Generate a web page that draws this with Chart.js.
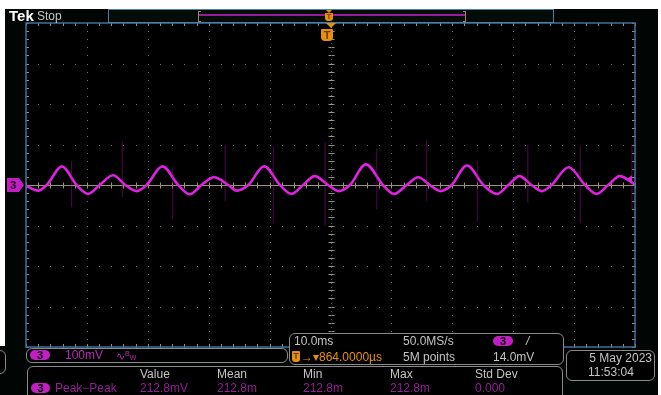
<!DOCTYPE html>
<html>
<head>
<meta charset="utf-8">
<script src="https://cdn.jsdelivr.net/npm/chart.js@4.4.0/dist/chart.umd.min.js"></script>
<style>
  body { margin: 0; background: #fff; }
  #screen { position: absolute; left: 0; top: 0; width: 661px; height: 395px; overflow: hidden;
            font-family: "Liberation Sans", Arial, sans-serif; }
  .bg { position: absolute; background: #010604; }
  canvas { position: absolute; left: 0; top: 0; z-index: 1; }
  .t { position: absolute; white-space: nowrap; font-size: 12px; line-height: 12px; z-index: 3; }
  .box { position: absolute; border: 1px solid #8a8a8a; border-radius: 6px; background: #000; z-index: 2; }
  .pill { position: absolute; background: #c21fc2; color: #000; border-radius: 5px; font-size: 11px;
          line-height: 10px; font-weight: bold; text-align: center; z-index: 3; }
  .grey { color: #c4c4c4; }
  .mag { color: #b42eb4; }
  .dmag { color: #951f95; }
  .orange { color: #e8900c; }
</style>
</head>
<body>
<div id="screen">
  <div class="bg" style="left:5px;top:9px;width:653px;height:386px"></div>
  <div class="bg" style="left:0;top:346px;width:30px;height:49px"></div>

  <!-- barra superior -->
  <div class="t" style="left:9px;top:8px;font-size:15px;line-height:15px;font-weight:bold;color:#fff">Tek</div>
  <div class="t grey" style="left:37px;top:10px">Stop</div>
  <div style="position:absolute;left:108px;top:9px;width:444px;height:12px;border:1px solid #4a7fae;background:#040c07;z-index:2"></div>
  <div style="position:absolute;left:199px;top:14px;width:266px;height:2px;background:#9a1a9a;z-index:3"></div>
  <div style="position:absolute;left:198px;top:11px;width:2px;height:9px;border:1px solid #9c8a62;border-right:none;z-index:3"></div>
  <div style="position:absolute;left:463px;top:11px;width:2px;height:9px;border:1px solid #9c8a62;border-left:none;z-index:3"></div>
  <div style="position:absolute;left:326px;top:10px;width:0;height:0;border-left:3px solid transparent;border-right:3px solid transparent;border-top:3px solid #e8900c;z-index:3"></div>
  <div style="position:absolute;left:325px;top:13px;width:8px;height:8px;background:#e8900c;border-radius:0 0 3px 3px;color:#7a4400;font-size:8px;line-height:8px;font-weight:bold;text-align:center;z-index:3">T</div>

  <!-- marcador de disparo -->
  <div style="position:absolute;left:326px;top:23px;width:0;height:0;border-left:5px solid transparent;border-right:5px solid transparent;border-top:5px solid #e8900c;z-index:3"></div>
  <div style="position:absolute;left:321px;top:29px;width:12px;height:12px;background:#e8900c;border-radius:1px 1px 4px 4px;color:#6a3a00;font-size:11px;line-height:12px;font-weight:bold;text-align:center;z-index:3">T</div>

  <!-- marcador del canal 3 -->
  <div style="position:absolute;left:7px;top:178px;width:17px;height:14px;background:#c21fc2;clip-path:polygon(0 0,70% 0,100% 50%,70% 100%,0 100%);color:#2a002a;font-size:11px;line-height:14px;font-weight:bold;padding-left:3px;box-sizing:border-box;z-index:3">3</div>

  <!-- cajas inferiores -->
  <div class="box" style="left:-10px;top:350px;width:14px;height:22px"></div>
  <div class="box" style="left:26px;top:348px;width:260px;height:13px"></div>
  <div class="pill" style="left:30px;top:350px;width:20px;height:10px">3</div>
  <div class="t mag" style="left:65px;top:349px">100mV</div>
  <div class="t mag" style="left:116px;top:348px;font-size:11px">∿<span style="font-size:7px;vertical-align:4px">B</span><span style="font-size:7px">W</span></div>

  <div class="box" style="left:289px;top:333px;width:273px;height:30px"></div>
  <div class="t grey" style="left:294px;top:335px">10.0ms</div>
  <div class="t grey" style="left:403px;top:335px">50.0MS/s</div>
  <div class="pill" style="left:493px;top:336px;width:20px;height:10px">3</div>
  <div class="t grey" style="left:526px;top:335px;font-style:italic">/</div>
  <div style="position:absolute;left:292px;top:351px;width:8px;height:11px;background:#e8900c;border-radius:1px 1px 3px 3px;color:#6a3a00;font-size:9px;line-height:11px;font-weight:bold;text-align:center;z-index:3">T</div>
  <div class="t orange" style="left:301px;top:351px">→▾864.0000µs</div>
  <div class="t grey" style="left:403px;top:351px">5M points</div>
  <div class="t grey" style="left:493px;top:351px">14.0mV</div>

  <div class="box" style="left:566px;top:350px;width:87px;height:29px"></div>
  <div class="t grey" style="left:566px;top:352px;width:86px;text-align:right">5 May 2023</div>
  <div class="t grey" style="left:588px;top:366px">11:53:04</div>

  <div class="box" style="left:27px;top:366px;width:534px;height:40px"></div>
  <div class="t grey" style="left:140px;top:368px">Value</div>
  <div class="t grey" style="left:217px;top:368px">Mean</div>
  <div class="t grey" style="left:303px;top:368px">Min</div>
  <div class="t grey" style="left:390px;top:368px">Max</div>
  <div class="t grey" style="left:475px;top:368px">Std Dev</div>
  <div class="pill" style="left:31px;top:383px;width:19px;height:10px">3</div>
  <div class="t dmag" style="left:55px;top:382px">Peak−Peak</div>
  <div class="t dmag" style="left:140px;top:382px">212.8mV</div>
  <div class="t dmag" style="left:217px;top:382px">212.8m</div>
  <div class="t dmag" style="left:303px;top:382px">212.8m</div>
  <div class="t dmag" style="left:390px;top:382px">212.8m</div>
  <div class="t dmag" style="left:475px;top:382px">0.000</div>

  <canvas id="scope" width="661" height="395"></canvas>
</div>

<script>
var timeMs = [-50, -48.0, -46.6, -44.1, -41.7, -39.8, -37.9, -35.7, -33.7, -31.8, -30.2, -27.6, -25.0,
  -23.1, -21.2, -19.1, -16.8, -15.4, -13.5, -10.9, -8.3, -6.4, -4.5, -2.6, -0.4, 1.3, 3.2, 5.8,
  8.6, 10.4, 12.5, 14.4, 16.3, 18.0, 19.9, 22.4, 25.1, 27.3, 29.2, 31.0, 33.0, 34.7, 36.3, 39.1,
  41.8, 43.7, 45.6, 47.5, 50];
var ch3mV = [-2, -14, 0, 46, 0, -22, 0, 24, 0, -15, 0, 46, 0,
  -23, 0, 19, 0, -14, 0, 46, 0, -22, 0, 22, 0, -15, 0, 51,
  0, -22, 0, 19, 0, -15, 0, 48, 0, -22, 0, 22, 0, -15, 0, 44,
  0, -22, 0, 22, 1];

// Picos esporadicos (trazas tenues)
var spikeTimeMs = [-42.5, -34.2, -25.9, -17.3, -9.4, -0.9, 7.6, 15.8, 24.1, 32.4, 41.0, 49.5];
var spikeTopMv = [60, 110, 45, 100, 95, 105, 90, 110, 60, 100, 95, 100];
var spikeBottomMv = [-55, -30, -85, -40, -95, -100, -60, -40, -90, -45, -95, -60];

var triggerLevelMv = 14.0;

// Divisiones de la reticula (10 ms/div, 100 mV/div)
var xDivs = [-50, -40, -30, -20, -10, 0, 10, 20, 30, 40, 50];
var yDivs = [-400, -300, -200, -100, 0, 100, 200, 300, 400];

var tracePoints = timeMs.map(function (t, i) { return { x: t, y: ch3mV[i] }; });
var spikePoints = [];
spikeTimeMs.forEach(function (t, i) {
  spikePoints.push({ x: t, y: spikeTopMv[i] }, { x: t, y: spikeBottomMv[i] }, { x: t, y: null });
});

// Reticula estilo osciloscopio
var scopeGrid = {
  id: "scopeGrid",
  beforeDatasetsDraw: function (chart) {
    var ctx = chart.ctx, a = chart.chartArea, x = chart.scales.x, y = chart.scales.y;
    ctx.save();
    ctx.fillStyle = "#000";
    ctx.fillRect(a.left, a.top, a.right - a.left, a.bottom - a.top);

    // puntos de la reticula
    ctx.fillStyle = "#6e6e6e";
    xDivs.forEach(function (d) {
      var px = Math.round(x.getPixelForValue(d));
      for (var m = -400; m <= 400; m += 20) ctx.fillRect(px, Math.round(y.getPixelForValue(m)), 1, 1);
    });
    yDivs.forEach(function (v) {
      var py = Math.round(y.getPixelForValue(v));
      for (var m = -50; m <= 50; m += 2) ctx.fillRect(Math.round(x.getPixelForValue(m)), py, 1, 1);
    });

    // ejes centrales con marcas
    var cx = Math.round(x.getPixelForValue(0)) + 0.5, cy = Math.round(y.getPixelForValue(0)) + 0.5;
    ctx.strokeStyle = "#9a9470";
    ctx.lineWidth = 1;
    ctx.beginPath();
    ctx.moveTo(a.left, cy); ctx.lineTo(a.right, cy);
    for (var m = -50; m <= 50; m += 2) {
      var px = Math.round(x.getPixelForValue(m)) + 0.5;
      ctx.moveTo(px, cy - 3); ctx.lineTo(px, cy + 3);
      ctx.moveTo(px, a.top); ctx.lineTo(px, a.top + 3);
      ctx.moveTo(px, a.bottom); ctx.lineTo(px, a.bottom - 3);
    }
    for (var v = -400; v <= 400; v += 20) {
      var py = Math.round(y.getPixelForValue(v)) + 0.5;
      ctx.moveTo(cx - 3, py); ctx.lineTo(cx + 3, py);
      ctx.moveTo(a.left, py); ctx.lineTo(a.left + 3, py);
      ctx.moveTo(a.right, py); ctx.lineTo(a.right - 3, py);
    }
    ctx.stroke();
    ctx.strokeStyle = "#5f5c48";
    ctx.setLineDash([1, 3]);
    ctx.beginPath();
    ctx.moveTo(cx, a.top); ctx.lineTo(cx, a.bottom);
    ctx.stroke();
    ctx.restore();
  },
  afterDatasetsDraw: function (chart) {
    var ctx = chart.ctx, a = chart.chartArea, y = chart.scales.y;
    ctx.save();
    ctx.strokeStyle = "#41709d";
    ctx.lineWidth = 1.5;
    ctx.strokeRect(a.left, a.top, a.right - a.left, a.bottom - a.top);
    // nivel de disparo
    var ty = y.getPixelForValue(triggerLevelMv);
    ctx.fillStyle = "#d22cd2";
    ctx.beginPath();
    ctx.moveTo(a.right - 9, ty);
    ctx.lineTo(a.right - 3, ty - 4);
    ctx.lineTo(a.right - 3, ty + 4);
    ctx.closePath();
    ctx.fill();
    ctx.restore();
  }
};

var scopeCanvas = document.getElementById("scope").getContext("2d");

var scopeChart = new Chart(scopeCanvas, {
  type: "line",
  data: {
    datasets: [
      {
        label: "Picos",
        data: spikePoints,
        borderColor: "rgba(170, 30, 170, 0.17)",
        borderWidth: 1,
        pointRadius: 0,
        spanGaps: false,
        tension: 0,
      },
      {
        label: "Canal 3",
        data: tracePoints,
        borderColor: "#df22df",
        borderWidth: 2.6,
        pointRadius: 0,
        cubicInterpolationMode: "monotone",
      },
    ],
  },
  options: {
    responsive: false,
    animation: false,
    layout: { padding: { left: 26, top: 23, right: 26, bottom: 48 } },
    plugins: { legend: { display: false }, tooltip: { enabled: false } },
    scales: {
      x: { type: "linear", min: -50, max: 50, display: false },
      y: { type: "linear", min: -400, max: 400, display: false },
    },
  },
  plugins: [scopeGrid],
});
</script>
</body>
</html>
